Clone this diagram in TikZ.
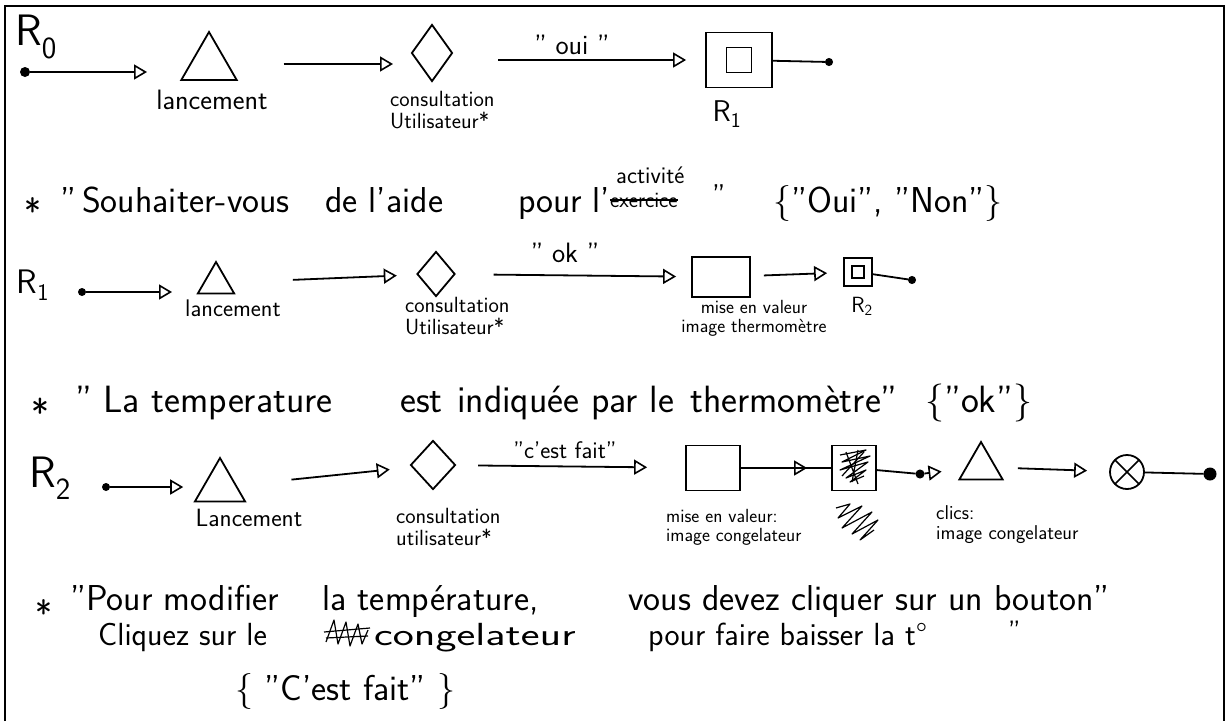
\documentclass[tikz,border=0pt]{standalone}
\usetikzlibrary{arrows.meta,shapes.geometric}

\tikzset{
  trait/.style={line width=1.8pt},
  fleche/.style={trait, -{Triangle[open,length=13pt,width=15pt,line width=1.6pt]}},
  triangle/.style={draw, trait, regular polygon, regular polygon sides=3, inner sep=0pt},
  choix/.style={draw, trait, diamond, inner sep=0pt},
  boite/.style={draw, trait, rectangle, inner sep=0pt},
  debut/.style={circle, fill, inner sep=0pt, minimum size=#1},
  debut/.default=8pt,
  fin/.style={circle, draw, fill, line width=1pt, inner sep=0pt, minimum size=7pt},
  nom/.style={font=\sffamily\fontsize{#1}{#1}\selectfont, inner sep=0pt},
  nom/.default=30,
  etiq/.style={font=\sffamily\fontsize{#1}{#1}\selectfont, align=left, inner sep=0pt},
  etiq/.default=22,
  texte/.style={font=\sffamily\fontsize{#1}{#1}\selectfont, anchor=base west, inner sep=0pt},
  texte/.default=36,
  gribouillis/.style={line width=1.2pt, line join=round}
}

\begin{document}
\begin{tikzpicture}[x=1pt, y=-1pt]
  \useasboundingbox (0,0) rectangle (1231,721);

  % Cadre
  \draw[line width=2pt] (5,721) -- (5,6) -- (1224,6) -- (1224,721);

  % Scenario R0
  \node[nom=44] (r0) at (36,37) {R\textsubscript{0}};
  \node[debut=10pt] (s0) at (25,72) {};
  \node[triangle, minimum size=64pt] (t0) at (209,64) {};
  \node[etiq=28] (l0) at (212,100) {lancement};
  \node[choix, minimum width=41pt, minimum height=57pt] (d0) at (432,53) {};
  \node[etiq, anchor=west] (c0) at (390,110) {consultation\\Utilisateur*};
  \node[boite, minimum width=66pt, minimum height=55pt] (b0) at (739,60) {};
  \node[boite, minimum size=25pt] (b0i) at (b0.center) {};
  \node[nom=30] (r1b) at (727,114) {R\textsubscript{1}};
  \node[fin] (e0) at (829,62) {};
  \node[nom=28] (q0) at (572,45) {" oui "};

  \draw[fleche, shorten >=62pt] (s0) -- (s0 -| t0);
  \draw[fleche, shorten <=55pt, shorten >=39pt] (t0) -- (t0 -| d0);
  \draw[fleche, shorten <=66pt, shorten >=19pt] (b0 -| d0) -- (b0);
  \draw[trait] (b0) -- (e0);

  % Question de R0
  \node[texte] (n1a) at (24,224) {*};
  \node[texte] (n1b) at (60,212) {"};
  \node[texte] (n1c) at (82,212) {Souhaiter-vous};
  \node[texte] (n1d) at (325,212) {de l'aide};
  \node[texte] (n1e) at (518,212) {pour};
  \node[texte] (n1f) at (592,212) {l'};
  \node[texte=24] (n1g) at (616,183) {activité};
  \node[texte=22] (n1h) at (610,207) {exercice};
  \draw[line width=1.6pt] (n1h.west) -- (n1h.east);
  \node[texte=30] (n1i) at (712,205) {"};
  \node[texte] (n1j) at (773,212) {\{"Oui", "Non"\}};

  % Scenario R1
  \node[nom=34] (r1) at (33,285) {R\textsubscript{1}};
  \node[debut] (s1) at (82,292) {};
  \node[triangle, minimum size=42pt] (t1) at (216,283) {};
  \node[etiq=24] (l1) at (233,308) {lancement};
  \node[choix, minimum width=38pt, minimum height=45pt] (d1) at (436,274) {};
  \node[etiq, anchor=west] (c1) at (405,316) {consultation\\Utilisateur*};
  \node[boite, minimum width=58pt, minimum height=40pt] (b1) at (721,277) {};
  \node[etiq=19, align=center] (m1) at (754,318) {mise en valeur\\image thermomètre};
  \node[boite, minimum size=28pt] (b2) at (858,272) {};
  \node[boite, minimum size=12pt] (b2i) at (b2.center) {};
  \node[nom=22] (r2b) at (862,306) {R\textsubscript{2}};
  \node[fin] (e1) at (912,280) {};
  \node[nom=28] (q1) at (565,253) {" ok "};

  \draw[fleche, shorten >=44pt] (s1) -- (s1 -| t1);
  \draw[fleche, shorten <=64pt, shorten >=20pt] (t1) -- (d1);
  \draw[fleche, shorten <=38pt, shorten >=15pt] (d1) -- (b1);
  \draw[fleche, shorten <=13pt, shorten >=16pt] (b1) -- (b2);
  \draw[trait] (b2) -- (e1);

  % Question de R1
  \node[texte=38] (n3a) at (31,426) {*};
  \node[texte=38] (n3b) at (75,412) {"};
  \node[texte=38] (n3c) at (103,412) {La temperature};
  \node[texte=38] (n3d) at (400,412) {est};
  \node[texte=38] (n3e) at (457,412) {indiquée par le};
  \node[texte=38] (n3f) at (690,412) {thermomètre"};
  \node[texte=38] (n3g) at (925,412) {\{"ok"\}};

  % Scenario R2
  \node[nom=44] (r2) at (50,478) {R\textsubscript{2}};
  \node[debut] (s2) at (106,487) {};
  \node[triangle, minimum size=58pt] (t2) at (220,487) {};
  \node[etiq=25] (l2) at (249,518) {Lancement};
  \node[choix, minimum width=45pt, minimum height=49pt] (d2) at (433,465) {};
  \node[etiq, anchor=west] (c2) at (396,527) {consultation\\utilisateur*};
  \node[boite, minimum width=54pt, minimum height=45pt] (b3) at (713,468) {};
  \node[etiq=19, anchor=west] (m3) at (666,527) {mise en valeur:\\image congelateur};
  \node[boite, minimum width=44pt, minimum height=45pt] (b4) at (854,468) {};
  \node[fin, minimum size=8pt] (p4) at (920,474) {};
  \node[triangle, minimum size=50pt] (t3) at (981,467) {};
  \node[etiq=20, anchor=west] (k3) at (936,525) {clics:\\image congelateur};
  \node[circle, draw, trait, minimum size=34pt, inner sep=0pt,
        path picture={\draw[line width=1.5pt]
          (path picture bounding box.north west) -- (path picture bounding box.south east)
          (path picture bounding box.north east) -- (path picture bounding box.south west);}]
        (x4) at (1127,472) {};
  \node[fin, minimum size=12pt] (e2) at (1210,474) {};
  \node[nom=24] (q2) at (565,450) {"c'est fait"};

  \draw[fleche, shorten >=19pt] (s2) -- (t2);
  \draw[fleche, shorten <=55pt, shorten >=22pt] (t2) -- (d2);
  \draw[fleche, shorten <=22pt, shorten >=38pt] (d2) -- (b3);
  \draw[trait] (b3) -- (b4);
  \draw[fleche, shorten <=20pt, shorten >=24pt] (b3) -- (b4);
  \draw[trait] (b4) -- (p4);
  \draw[fleche, shorten >=23pt] (p4) -- (t3);
  \draw[fleche, shorten <=21pt, shorten >=22pt] (t3) -- (x4);
  \draw[trait] (x4) -- (e2);

  % Ratures
  \draw[gribouillis] (840,455) -- (866,450) -- (842,462) -- (870,456) -- (840,470) -- (868,462)
    -- (846,478) -- (866,470) -- (850,482) -- (864,476);
  \draw[gribouillis] (846,452) -- (858,484) (858,450) -- (852,482) (864,452) -- (842,476);
  \draw[gribouillis] (836,508) -- (850,504) -- (838,518) -- (862,506) -- (842,528) -- (872,512)
    -- (852,534) -- (878,520) -- (860,540) -- (874,530);

  % Consigne de R2
  \node[texte] (n5a) at (35,626) {*};
  \node[texte] (n5b) at (70,610) {"};
  \node[texte] (n5c) at (86,610) {Pour modifier};
  \node[texte] (n5d) at (322,610) {la température,};
  \node[texte] (n5e) at (628,610) {vous devez cliquer sur un bouton"};
  \node[texte=32] (n6a) at (98,645) {Cliquez sur le};
  \draw[gribouillis] (326,642) -- (334,620) -- (338,644) -- (346,622) -- (350,646) -- (358,624)
    -- (362,644) -- (368,630);
  \draw[gribouillis] (324,632) -- (370,628) (326,638) -- (368,636);
  \node[texte=32] (n6b) at (374,645) {\scalebox{1.4}[1]{congelateur}};
  \node[texte=32] (n6c) at (648,645) {pour faire baisser la t°};
  \node[texte=28] (n6d) at (1008,640) {"};
  \node[texte] (n7) at (235,700) {\{ "C'est fait" \}};
\end{tikzpicture}
\end{document}
